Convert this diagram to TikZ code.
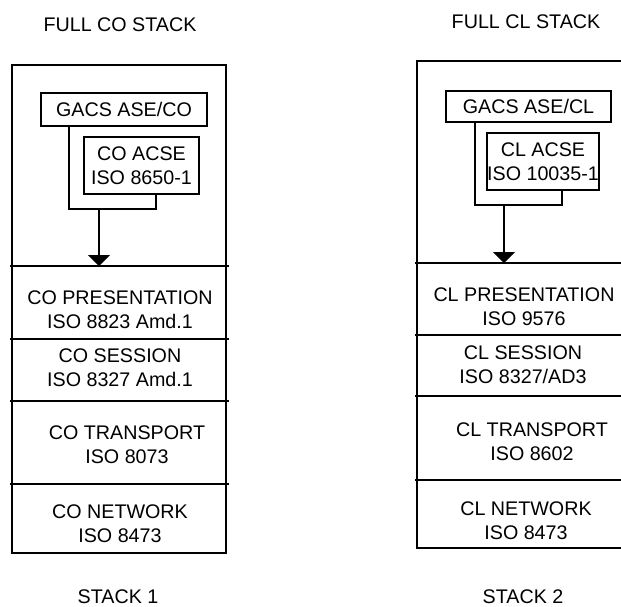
\documentclass[tikz,border=0pt]{standalone}
\usepackage{fontspec}
\setmainfont{Liberation Sans}
\usetikzlibrary{arrows.meta}
\begin{document}
\begin{tikzpicture}[x=1pt,y=-1pt,
  lbl/.style={font=\fontsize{19.7}{24}\selectfont, align=center, inner sep=0pt},
  frame/.style={line width=1.6pt},
  layerline/.style={line width=1.6pt},
  subbox/.style={draw, line width=1.5pt, inner sep=0pt, font=\fontsize{19.7}{24}\selectfont, align=center},
  wire/.style={line width=1.2pt},
  feed/.style={line width=1.2pt, -{Triangle[width=22pt,length=11pt]}}]
\useasboundingbox (0,0) rectangle (621,606);

% ---------- stack 1 (connection oriented) ----------
\node[lbl, anchor=base] (t1) at (120,31) {FULL CO STACK};
\draw[frame] (12,65) rectangle (226,553);
\draw[layerline] (10,266) -- (229,266);
\draw[layerline] (10,339) -- (229,339);
\draw[layerline] (10,401) -- (229,401);
\draw[layerline] (10,484) -- (229,484);

\node[subbox, minimum width=166pt, minimum height=33pt] (gacsA) at (124,109.5) {GACS ASE/CO};
\node[subbox, minimum width=115pt, minimum height=57pt] (acseA) at (141.5,165.5) {CO ACSE\\ISO 8650-1};
\coordinate (pA) at (69,209);
\coordinate (qA) at (156,209);
\coordinate (jA) at (99,209);
\coordinate (aA) at (99,266);
\draw[wire] (gacsA.south -| pA) -- (pA) -- (qA) -- (acseA.south -| qA);
\draw[feed] (jA) -- (aA);

\node[lbl] (presA) at (120,310) {CO PRESENTATION\\ISO 8823 Amd.1};
\node[lbl] (sessA) at (120,368) {CO SESSION\\ISO 8327 Amd.1};
\node[lbl] (tranA) at (127,445) {CO TRANSPORT\\ISO 8073};
\node[lbl] (netA)  at (120,523.5) {CO NETWORK\\ISO 8473};
\node[lbl, anchor=base] (s1) at (118,603) {STACK 1};

% ---------- stack 2 (connectionless) ----------
\node[lbl, anchor=base] (t2) at (526,28) {FULL CL STACK};
\draw[frame] (623,61) -- (417,61) -- (417,548) -- (623,548);
\draw[layerline] (415,263) -- (623,263);
\draw[layerline] (415,335) -- (623,335);
\draw[layerline] (415,396) -- (623,396);
\draw[layerline] (415,480) -- (623,480);

\node[subbox, minimum width=165pt, minimum height=31pt] (gacsB) at (528.5,106.5) {GACS ASE/CL};
\node[subbox, minimum width=112pt, minimum height=57pt] (acseB) at (543,161.5) {CL ACSE\\ISO 10035-1};
\coordinate (pB) at (475,205);
\coordinate (qB) at (562,205);
\coordinate (jB) at (504,205);
\coordinate (aB) at (504,263);
\draw[wire] (gacsB.south -| pB) -- (pB) -- (qB) -- (acseB.south -| qB);
\draw[feed] (jB) -- (aB);

\node[lbl] (presB) at (524,307) {CL PRESENTATION\\ISO 9576};
\node[lbl] (sessB) at (523,365) {CL SESSION\\ISO 8327/AD3};
\node[lbl] (tranB) at (532,441.5) {CL TRANSPORT\\ISO 8602};
\node[lbl] (netB)  at (526,520.5) {CL NETWORK\\ISO 8473};
\node[lbl, anchor=base] (s2) at (523,603) {STACK 2};
\end{tikzpicture}
\end{document}
